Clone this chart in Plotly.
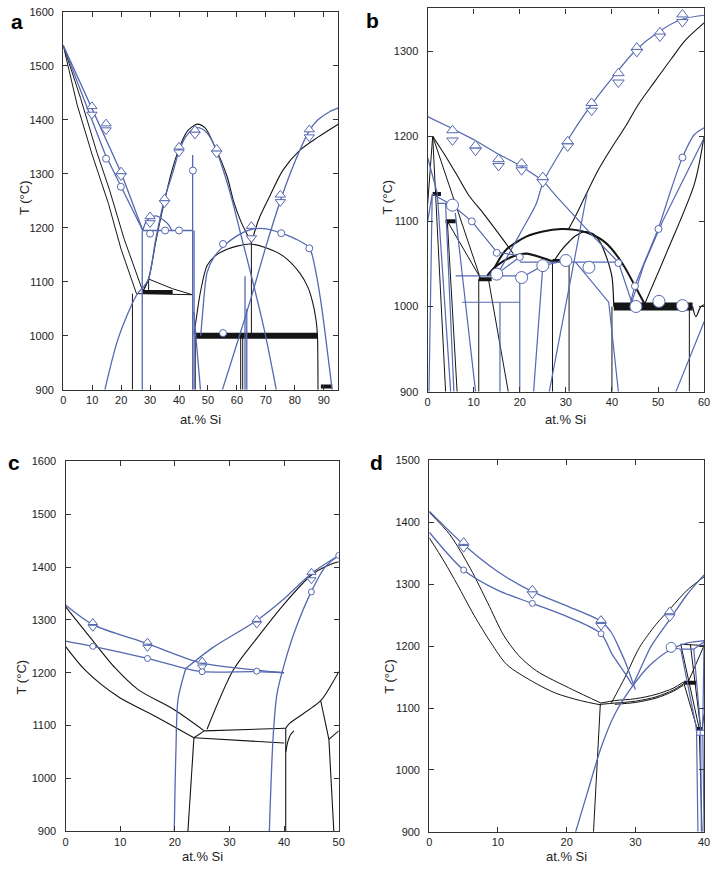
import plotly.graph_objects as go

# ---------------- Panel a (0-95 at.% Si, 900-1600 C) ----------------
A_BLK_L1 = [(0,1538),(4.8,1428),(9.9,1337),(15.6,1245),(20,1160),(25.3,1078)]
A_BLK_L2 = [(0,1538),(6,1440),(11.6,1340),(16,1270),(21,1180),(27.5,1082)]
A_BLU_TRI = [(0,1538),(10,1420),(20,1302),(27.5,1195)]
A_BLU_CIR = [(0,1538),(7,1440),(14.4,1337),(20,1276),(27.5,1195)]
A_BLU_H1195 = [(27.5,1195),(44.8,1195)]
A_BLU_ARC = [(27.5,1195),(28.5,1210),(30,1218),(32,1222),(34.5,1215),(36.5,1205),(37.5,1195)]
A_BLU_PEAK = [(14.4,900),(19,995),(25.3,1075),(29.2,1102),(32,1180),(34.9,1252),(38,1305),(40,1342),
              (42.5,1370),(45.5,1385),(48,1383),(50.5,1370),(53,1342),(57.7,1264),(61,1195),(65.5,1100),
              (69.5,1010),(73.6,900)]
A_BLK_PEAK = [(27.5,1082),(29.5,1105),(32,1175),(34.8,1245),(37.5,1305),(40.6,1355),(43,1380),(46.3,1392),
              (49,1385),(52,1355),(56.6,1295),(58.8,1250),(61.5,1210),(63.5,1188),(65,1172)]
A_BLK_RLIQ = [(95,1392),(88,1368),(81.6,1343),(75.8,1306),(71.3,1258),(67.5,1215),(65,1172)]
A_BLU_RLIQ = [(95,1422),(92,1415),(88,1400),(85,1380),(80,1322),(75.5,1258),(70,1165),(65,1072),(60,985),(55,900)]
A_BLU_DOME = [(47.5,1000),(48,1032),(49.7,1117),(52,1145),(55.4,1166),(60,1185),(65.1,1197),(70.2,1198),
              (75.3,1190),(80,1180),(85,1163),(87.3,1117),(88.8,1070),(90.1,1020),(91.5,960),(92.9,900)]
A_BLK_DOME = [(45.2,1002),(47.4,1081),(49.7,1130),(52.5,1148),(56.6,1160),(60,1166),(64.5,1170),(70,1163),
              (75.9,1148),(81.6,1117),(84.5,1090),(86.1,1063),(87.3,1030),(87.8,1002),(88,900)]
A_BLK_TRI = [(25.3,1078),(44.6,1076)]
A_BLK_TRI2 = [(27.5,1082),(29.5,1105),(37.8,1087),(44.6,1076)]
A_BLK_TRI3 = [(29.5,1105),(29.5,1082)]
A_BLK_BAR1 = [(27.5,1081),(37.8,1081)]
A_BLK_BAR2 = [(45.5,1000),(87.8,1000)]
A_BLK_BAR3 = [(89,906),(92.9,906)]
A_BLK_V1 = [(23.9,900),(23.9,1078)]
A_BLK_V2 = [(61.3,900),(61.3,1000)]
A_BLK_V3 = [(62,900),(62,1000)]
A_BLK_V4 = [(65,1000),(65,1172)]
A_BLK_V5 = [(45.6,900),(45.6,1000)]
A_BLU_V1 = [(27.3,900),(27.3,1195)]
A_BLU_V2 = [(44.7,900),(44.7,1335)]
A_BLU_V3 = [(45.2,900),(45.2,1195)]
A_BLU_V4 = [(62.8,900),(62.8,1110)]
A_BLU_V5 = [(63.4,900),(63.4,1050)]
A_BLU_D1 = [(45.1,1044),(46.3,970),(47.4,900)]
A_TRI_UP = [(9.9,1425),(14.8,1393),(20,1304),(30,1221),(35,1254),(40,1350),(45.5,1381),(53,1346),(65,1203),(75,1261),(85,1382)]
A_TRI_DN = [(9.9,1410),(14.8,1381),(20,1296),(30,1209),(35,1246),(40,1340),(45.5,1373),(53,1338),(65,1181),(75,1248),(85,1368)]
A_CIRC = [(14.8,1328),(19.9,1276),(30,1189),(35.2,1195),(40,1195),(44.8,1306),(55.2,1170),(75.3,1190),(85,1162),(55.2,1005)]

# ---------------- Panel b (0-60 at.% Si, 900-1350 C) ----------------
B_BLU_LIQ_L = [(0,1223),(5,1210),(10,1196),(15,1180),(20,1166),(25,1148),(28,1129),(32,1105),(36,1082),(41.4,1052),(44.3,1005)]
B_BLU_LIQ_R = [(15,1036),(20,1085),(23.6,1121),(25,1145),(30,1192),(35,1233),(40,1268),(45,1300),(50,1322),(55,1337),(60,1342)]
B_BLK_RISE = [(30.5,1090),(32,1105),(34.5,1133),(37,1160),(40,1187),(43,1212),(45.7,1237),(49,1262),(52.9,1291),(56,1313),(60,1333)]
B_BLK_SPIKE = [(1.1,1200),(3.5,1180),(6.3,1155),(9,1130),(12,1110),(15.5,1085),(18.6,1062)]
B_BLK_ARC_A = [(12.9,1036),(15,1048),(18.6,1059),(21.4,1062),(25,1057),(27.1,1053)]
B_BLK_ARC_B = [(13.6,1036),(15.5,1055),(17.1,1067),(21.4,1082),(25,1088),(29,1091),(32,1090),(35,1086),
               (38.6,1075),(42.1,1052),(45.7,1017),(47.1,1003)]
B_BLK_ARC_C = [(27.5,1054),(29,1066),(30.7,1076),(32.1,1083),(34.3,1088),(36,1085),(37.5,1075),(39,1055),(40,1035),(40.4,1000)]
B_BLK_BAR1 = [(1.1,1132),(2.9,1132)]
B_BLK_BAR2 = [(3.9,1100),(6.1,1100)]
B_BLK_BAR3 = [(11.1,1032),(13.9,1032)]
B_BLK_BAR4 = [(27.1,1054),(28.9,1054)]
B_BLK_BAR5 = [(40.4,1000),(57.5,1000)]
B_BLK_DIP = [(57.5,1000),(58.2,988),(59.3,1000),(60,1002)]
B_BLK_V1 = [(11.1,900),(11.1,1032)]
B_BLK_V2 = [(27.1,900),(27.1,1054)]
B_BLK_V3 = [(30.7,900),(30.7,1053)]
B_BLK_V4 = [(40,900),(40,1000)]
B_BLK_V5 = [(56.8,900),(56.8,1000)]
B_BLK_D1 = [(13.2,1032),(17.5,900)]
B_BLK_D2 = [(1.1,1200),(3.9,900)]
B_BLK_D3 = [(4.3,1098),(6.4,900)]
B_BLK_D4 = [(1.1,1200),(11.4,1034)]
B_BLK_D5 = [(4.3,1100),(11.4,1034)]
B_BLK_D6 = [(0,1120),(1.1,1200)]
B_BLK_R = [(47.1,1003),(52,1065),(57.9,1144),(60,1200)]
B_BLU_CHAIN = [(1,1132),(5.4,1119),(9.6,1100),(15,1064),(20.4,1059)]
B_BLU_CHAIN2 = [(15,1038),(20,1058)]
B_BLU_CHAIN3 = [(20.4,1034),(25,1048),(30,1054)]
B_BLU_H1052 = [(20,1052),(41.4,1052)]
B_BLU_H1036 = [(6.1,1036),(20,1036)]
B_BLU_H1005 = [(7.5,1005),(20,1005)]
B_BLU_H1121 = [(2.1,1121),(5.7,1121)]
B_BLU_V1 = [(20,900),(20,1036)]
B_BLU_V2 = [(15.7,900),(15.7,1005)]
B_BLU_L1 = [(0,1175),(2.1,1133)]
B_BLU_L2 = [(2.1,1133),(5,900)]
B_BLU_L3 = [(3.9,1121),(5.7,900)]
B_BLU_L4 = [(6,1110),(10.4,900)]
B_BLU_L5 = [(25,1048),(23,900)]
B_BLU_L6 = [(32.1,1052),(39.3,1005),(41.4,900)]
B_BLU_L7 = [(44,1003),(45,1024),(50,1091),(53,1140),(55.3,1175),(57.9,1202),(60,1210)]
B_BLU_L8 = [(44.3,1005),(47,1050),(51,1100),(55,1144),(60,1198)]
B_BLU_L9 = [(53.9,900),(60,982)]
B_BLU_L10 = [(26.4,900),(34.6,1133)]
B_BLU_L11 = [(0,1100),(1,1132),(0.3,900)]
B_TRI_UP = [(5.4,1207),(10.4,1189),(15.4,1173),(20.4,1168),(25,1152),(30.4,1194),(35.6,1239),(41.4,1274),(45.4,1304),(50.4,1322),(55.3,1343)]
B_TRI_DN = [(5.4,1195),(10.4,1183),(15.4,1165),(20.4,1160),(25,1146),(30.4,1188),(35.6,1230),(41.4,1263),(45.4,1299),(50.4,1317),(55.3,1334)]
B_CIRC_S = [(9.6,1100),(15,1063),(20,1058),(41.4,1051),(45,1024),(50.1,1091),(55.3,1175)]
B_CIRC_L = [(5.4,1119),(15,1038),(20.4,1034),(25,1048),(30,1054),(35,1046),(45.2,1000),(50.2,1006),(55.3,1001)]

# ---------------- Panel c (0-50 at.% Si, 900-1600 C) ----------------
C_BLU_TRI = [(0,1328),(5,1291),(15,1255),(25,1218),(35,1205),(40,1200)]
C_BLU_CIR = [(0,1260),(5,1250),(15,1227),(22,1208),(25,1202),(35,1202),(40,1200)]
C_BLU_RISE = [(22,1208),(27,1248),(35,1299),(40,1340),(45,1388),(50,1422)]
C_BLU_RISE2 = [(50,1422),(47.5,1400),(45,1354),(42,1280),(40,1215),(38.7,1160),(38,1080),(37.3,900)]
C_BLU_LEFT = [(19.9,900),(20.2,1050),(20.6,1150),(22,1208)]
C_BLK_A = [(0,1325),(4.5,1267),(9,1210),(13.3,1168),(19.9,1130),(25.4,1090)]
C_BLK_B = [(0,1250),(3.6,1205),(9.6,1155),(16.9,1115),(23.5,1077)]
C_BLK_S = [(23.5,1077),(25.4,1090)]
C_BLK_HU = [(25.4,1090),(40.3,1095)]
C_BLK_HL = [(23.5,1077),(40,1067)]
C_BLK_RISE = [(25.9,1093),(30.7,1205),(35,1265),(40,1330),(45,1385),(48,1403),(50,1410)]
C_BLK_V1 = [(23.5,1077),(22.9,990),(22.4,900)]
C_BLK_V2 = [(40.3,900),(40.3,1095)]
C_BLK_SM = [(40.3,1050),(40.7,1070),(41.2,1083),(41.8,1090)]
C_BLK_R1 = [(40.3,1095),(41,1104),(46.7,1147),(48.8,1180),(50,1202)]
C_BLK_R2 = [(46.7,1147),(48.2,1074),(49.1,900)]
C_BLK_R3 = [(48.2,1074),(50,1090)]
C_TRI_UP = [(5,1295),(15,1258),(25,1222),(35,1301),(45,1390)]
C_TRI_DN = [(5,1286),(15,1248),(25,1211),(35,1292),(45,1376)]
C_CIRC = [(5,1250),(15,1227),(25,1202),(35,1203),(45,1353),(50,1422)]

# ---------------- Panel d (0-40 at.% Si, 900-1500 C) ----------------
D_BLU_TRI = [(0,1418),(5,1364),(10,1320),(15,1288),(20,1265),(25,1240),(26.5,1222),(27.5,1200),(28.5,1175),(29.5,1145),(30,1130)]
D_BLU_CIR = [(0,1384),(5,1323),(10,1290),(15,1269),(20,1248),(25,1220),(26.6,1187),(28.5,1156),(29.5,1138)]
D_BLU_RISE = [(29.5,1134),(31,1170),(32.3,1200),(35.2,1246),(37.5,1283),(40,1315)]
D_BLU_LOW = [(21.3,900),(23,963),(25.1,1039),(27,1090),(29.5,1134),(32,1168),(35.2,1195),(37.5,1205),(40,1209)]
D_BLU_POLY = [(35.2,1198),(36.6,1195),(38.5,1195),(40,1207)]
D_BLU_V1 = [(36.6,1195),(38.9,1066),(39.1,900)]
D_BLU_V2 = [(38.5,1195),(39.5,1066),(39.6,900)]
D_BLU_V3 = [(40,1209),(39.8,1066),(40,900)]
D_BLK_A = [(0,1416),(3,1380),(6,1325),(8.5,1270),(10.8,1218),(13,1185),(15.6,1160),(20.8,1130),(25,1108)]
D_BLK_B = [(0,1375),(2.2,1336),(4.1,1299),(6.5,1250),(9,1205),(11.3,1170),(15,1143),(18.4,1124),(22,1112),(25,1105)]
D_BLK_BOT1 = [(25,1108),(27,1112),(30,1115),(33,1122),(35.5,1132),(37,1142)]
D_BLK_BOT2 = [(25,1106),(27,1108),(30,1111),(33,1118),(35.5,1129),(37,1139)]
D_BLK_BOT3 = [(27,1106),(30,1109),(33,1116),(35.5,1127),(37,1137)]
D_BLK_BAR1 = [(37.1,1141),(38.8,1141)]
D_BLK_BAR2 = [(38.8,1066),(39.7,1066)]
D_BLK_RISE = [(26.5,1108),(28.5,1150),(30.6,1198),(33,1235),(35.2,1262),(37.5,1290),(40,1312)]
D_BLK_V1 = [(24.9,1107),(23.9,900)]
D_BLK_R1 = [(36.6,1203),(39.3,1066),(39.7,900)]
D_BLK_R2 = [(38,1203),(39.5,1066)]
D_BLK_R3 = [(37.6,1140),(40,1201)]
D_BLK_R4 = [(36.6,1203),(40,1201)]
D_BLK_R5 = [(37,1142),(39,1066)]
D_BLK_R6 = [(39.7,1066),(40,1090)]
D_TRI_UP = [(5,1368),(15,1291),(25,1242),(35,1256)]
D_TRI_DN = [(5,1359),(15,1284),(25,1233),(35,1247)]
D_CIRC = [(5,1323),(15,1269),(25,1220),(35.2,1198)]
D_SQ = [(39.3,1060),(39.8,1060)]

# ---------------- styles & drawing ----------------
BLUE = "#5568b0"
BLACK = "#151515"

fig = go.Figure()
ax = ["", "2", "3", "4"]

def line(p, pts, col, w=1.0, smooth=False):
    fig.add_trace(go.Scatter(
        x=[q[0] for q in pts], y=[q[1] for q in pts], mode="lines",
        line=dict(color=col, width=w, shape="spline" if smooth else "linear", smoothing=0.8),
        xaxis="x" + ax[p], yaxis="y" + ax[p], hoverinfo="skip", showlegend=False))

def marks(p, pts, sym, size, fill="white", lw=1.0):
    fig.add_trace(go.Scatter(
        x=[q[0] for q in pts], y=[q[1] for q in pts], mode="markers",
        marker=dict(symbol=sym, size=size, color=fill, line=dict(color=BLUE, width=lw)),
        xaxis="x" + ax[p], yaxis="y" + ax[p], hoverinfo="skip", showlegend=False))

# panel a
for c in [A_BLK_L1, A_BLK_L2]: line(0, c, BLACK, 1.0)
for c in [A_BLK_PEAK, A_BLK_RLIQ, A_BLK_DOME]: line(0, c, BLACK, 1.1, True)
for c in [A_BLK_TRI, A_BLK_TRI2, A_BLK_TRI3, A_BLK_V1, A_BLK_V2, A_BLK_V3, A_BLK_V4, A_BLK_V5]: line(0, c, BLACK, 1.0)
line(0, A_BLK_BAR1, BLACK, 4); line(0, A_BLK_BAR2, BLACK, 6); line(0, A_BLK_BAR3, BLACK, 4)
for c in [A_BLU_TRI, A_BLU_CIR, A_BLU_H1195, A_BLU_V1, A_BLU_V2, A_BLU_V3, A_BLU_V4, A_BLU_V5, A_BLU_D1]: line(0, c, BLUE, 1.3)
for c in [A_BLU_ARC, A_BLU_PEAK, A_BLU_RLIQ, A_BLU_DOME]: line(0, c, BLUE, 1.3, True)
marks(0, A_TRI_UP, "triangle-up", 9); marks(0, A_TRI_DN, "triangle-down", 9); marks(0, A_CIRC, "circle", 7)

# panel b
for c in [B_BLK_RISE, B_BLK_SPIKE, B_BLK_R]: line(1, c, BLACK, 1.1, True)
line(1, B_BLK_ARC_A, BLACK, 2.2, True); line(1, B_BLK_ARC_B, BLACK, 2.0, True); line(1, B_BLK_ARC_C, BLACK, 1.2, True)
for c in [B_BLK_V1, B_BLK_V2, B_BLK_V3, B_BLK_V4, B_BLK_V5, B_BLK_D1, B_BLK_D2, B_BLK_D3, B_BLK_D4, B_BLK_D5, B_BLK_D6]: line(1, c, BLACK, 1.0)
line(1, B_BLK_DIP, BLACK, 1.2, True)
for c in [B_BLK_BAR1, B_BLK_BAR2, B_BLK_BAR3]: line(1, c, BLACK, 4)
line(1, B_BLK_BAR4, BLACK, 3); line(1, B_BLK_BAR5, BLACK, 8)
for c in [B_BLU_LIQ_L, B_BLU_CHAIN, B_BLU_CHAIN2, B_BLU_CHAIN3, B_BLU_H1052, B_BLU_H1036, B_BLU_H1005, B_BLU_H1121,
          B_BLU_V1, B_BLU_V2, B_BLU_L1, B_BLU_L2, B_BLU_L3, B_BLU_L4, B_BLU_L5, B_BLU_L6, B_BLU_L8, B_BLU_L9,
          B_BLU_L10, B_BLU_L11]: line(1, c, BLUE, 1.2)
for c in [B_BLU_LIQ_R, B_BLU_L7]: line(1, c, BLUE, 1.2, True)
marks(1, B_TRI_UP, "triangle-up", 10); marks(1, B_TRI_DN, "triangle-down", 10)
marks(1, B_CIRC_S, "circle", 7); marks(1, B_CIRC_L, "circle", 12)

# panel c
for c in [C_BLK_A, C_BLK_B, C_BLK_RISE, C_BLK_R1, C_BLK_SM]: line(2, c, BLACK, 1.1, True)
for c in [C_BLK_S, C_BLK_HU, C_BLK_HL, C_BLK_V1, C_BLK_V2, C_BLK_R2, C_BLK_R3]: line(2, c, BLACK, 1.1)
for c in [C_BLU_TRI, C_BLU_CIR, C_BLU_RISE, C_BLU_RISE2, C_BLU_LEFT]: line(2, c, BLUE, 1.3, True)
marks(2, C_TRI_UP, "triangle-up", 8); marks(2, C_TRI_DN, "triangle-down", 8); marks(2, C_CIRC, "circle", 6)

# panel d
for c in [D_BLK_A, D_BLK_B, D_BLK_BOT1, D_BLK_BOT2, D_BLK_BOT3, D_BLK_RISE]: line(3, c, BLACK, 1.0, True)
for c in [D_BLK_V1, D_BLK_R1, D_BLK_R2, D_BLK_R3, D_BLK_R4, D_BLK_R5, D_BLK_R6]: line(3, c, BLACK, 1.0)
line(3, D_BLK_BAR1, BLACK, 4); line(3, D_BLK_BAR2, BLACK, 4)
for c in [D_BLU_TRI, D_BLU_CIR, D_BLU_RISE, D_BLU_LOW]: line(3, c, BLUE, 1.3, True)
for c in [D_BLU_POLY, D_BLU_V1, D_BLU_V2, D_BLU_V3]: line(3, c, BLUE, 1.2)
marks(3, D_TRI_UP, "triangle-up", 9); marks(3, D_TRI_DN, "triangle-down", 9)
marks(3, D_CIRC, "circle", 6); marks(3, D_CIRC[-1:], "circle", 10); marks(3, D_SQ, "square", 5)

W, H = 718, 877
def px(x0, x1): return [x0 / W, x1 / W]
def py(top, bot): return [1 - bot / H, 1 - top / H]
def pxp(x): return x / W
def pyp(y): return 1 - y / H

axfont = dict(family="Liberation Sans, Arial, sans-serif", size=11, color="#222")
def xa(dom, rng, dt):
    return dict(domain=dom, range=rng, dtick=dt, tick0=0, ticks="inside", ticklen=5, tickcolor="#333",
                showline=True, linecolor="#333", linewidth=1.2, mirror="allticks", showgrid=False,
                zeroline=False, tickfont=axfont, fixedrange=True)
def ya(dom, rng, anchor):
    d = xa(dom, rng, 100); d["tick0"] = 900; d["anchor"] = anchor; d["ticklabelstandoff"] = 6; return d

xd = [px(61, 339.5), px(430, 710), px(63.3, 340), px(431.7, 710)]
yd = [py(6, 389), py(2.5, 391), py(461.7, 836.7), py(460.7, 837.3)]
layout = dict(width=W, height=H, margin=dict(l=0, r=0, t=0, b=0), plot_bgcolor="white", paper_bgcolor="white")
xr = [[0, 95], [0, 60], [0, 50], [0, 40]]
yr = [[900, 1600], [900, 1350], [900, 1600], [900, 1500]]
for i in range(4):
    xk = "xaxis" + ax[i]; yk = "yaxis" + ax[i]
    d = xa(xd[i], xr[i], 10); d["anchor"] = "y" + ax[i]
    layout[xk] = d
    layout[yk] = ya(yd[i], yr[i], "x" + ax[i])

ann = []
tfont = dict(family="Liberation Sans, Arial, sans-serif", size=13, color="#222")
for (lx, ly) in [(22, 194), (389, 194), (19, 680), (392, 680)]:
    ann.append(dict(text="T (°C)", x=pxp(lx), y=pyp(ly), xref="paper", yref="paper", showarrow=False,
                    textangle=-90, font=tfont, xanchor="center", yanchor="middle"))
for (lx, ly) in [(200, 419), (570, 419), (202, 862), (571, 862)]:
    ann.append(dict(text="at.% Si", x=pxp(lx), y=pyp(ly), xref="paper", yref="paper", showarrow=False,
                    font=tfont, xanchor="center", yanchor="middle"))
lfont = dict(family="Liberation Sans, Arial, sans-serif", size=21, color="black")
for (t, lx, ly) in [("a", 14, 16), ("b", 374, 15), ("c", 11, 463), ("d", 378, 463)]:
    ann.append(dict(text="<b>" + t + "</b>", x=pxp(lx), y=pyp(ly), xref="paper", yref="paper",
                    showarrow=False, font=lfont, xanchor="center", yanchor="middle"))
layout["annotations"] = ann
fig.update_layout(**layout)
# remove the default 8px page margin so the figure sits exactly in the window
fig.write_html("out.html", config={"displayModeBar": False},
               post_script="document.body.style.margin='0';document.body.style.overflow='hidden';")
